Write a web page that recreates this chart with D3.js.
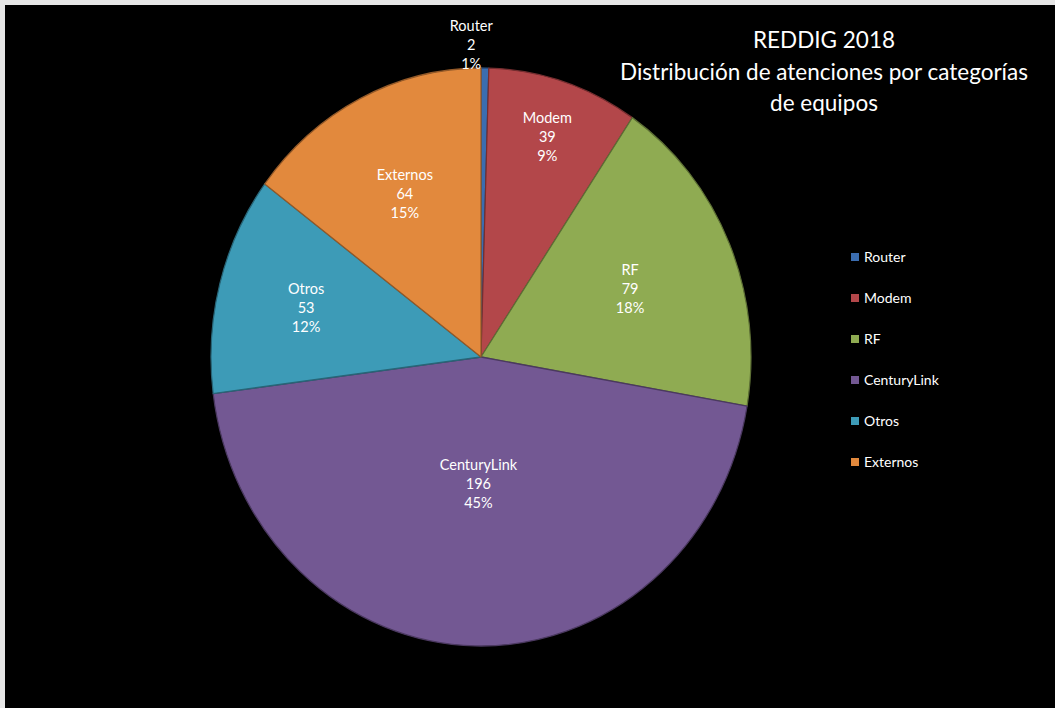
<!DOCTYPE html>
<html lang="es">
<head>
    <meta charset="UTF-8">
    <title>REDDIG 2018</title>
    <script src="https://d3js.org/d3.v7.min.js"></script>
    <style>
        html, body { margin: 0; padding: 0; background: #e6e6e6; }
        svg { display: block; }
        text { font-family: Lato, "Open Sans", sans-serif; fill: #fff; }
    </style>
</head>
<body>
    <svg id="chart" width="1055" height="708"></svg>

    <script>
        // data
        const categories = ["Router", "Modem", "RF", "CenturyLink", "Otros", "Externos"];
        const counts = [2, 39, 79, 196, 53, 64];
        const percentLabels = ["1%", "9%", "18%", "45%", "12%", "15%"];
        const colors = ["#3b6db0", "#b3474a", "#8fab52", "#735893", "#3d9bb7", "#e2893d"];
        const titleLines = ["REDDIG 2018", "Distribución de atenciones por categorías", "de equipos"];

        // layout: how far out each label sits (fraction of radius)
        const labelRadius = [1.08, 0.8, 0.6, 0.44, 0.67, 0.63];

        const W = 1055, H = 708;
        const cx = 481, cy = 357;
        const rx = 270, ry = 289;

        const svg = d3.select("#chart");

        //black chart area
        svg.append("rect")
            .attr("x", 5).attr("y", 5)
            .attr("width", W - 5).attr("height", H - 5)
            .attr("fill", "#000");

        const data = categories.map((c, i) => ({ name: c, value: counts[i], pct: percentLabels[i], color: colors[i], lr: labelRadius[i] }));

        const pie = d3.pie().sort(null).value(d => d.value);
        const arcs = pie(data);

        const arc = d3.arc().innerRadius(0).outerRadius(rx);

        //pie drawn as circle then stretched into an ellipse
        const pieG = svg.append("g")
            .attr("transform", `translate(${cx},${cy}) scale(1,${ry / rx})`);

        pieG.selectAll("path")
            .data(arcs)
            .enter().append("path")
            .attr("d", arc)
            .attr("fill", d => d.data.color)
            .attr("stroke", d => d3.color(d.data.color).darker(1.2))
            .attr("stroke-width", 1.2)
            .attr("stroke-linejoin", "round");

        //slice labels
        const labels = svg.append("g").attr("class", "labels");
        arcs.forEach(a => {
            const mid = (a.startAngle + a.endAngle) / 2;
            let lx = cx + Math.sin(mid) * rx * a.data.lr;
            const ly = cy - Math.cos(mid) * ry * a.data.lr;
            //outside label sits left of the thin slice
            if (a.data.lr > 1) lx -= 14;
            const t = labels.append("text")
                .attr("text-anchor", "middle")
                .attr("font-size", 14.5);
            [a.data.name, a.data.value, a.data.pct].forEach((s, k) => {
                t.append("tspan")
                    .attr("x", lx)
                    .attr("y", ly + (k - 1) * 19 + 5)
                    .text(s);
            });
        });

        //title
        const title = svg.append("text")
            .attr("text-anchor", "middle")
            .attr("font-size", 22.5);
        titleLines.forEach((s, k) => {
            title.append("tspan")
                .attr("x", 824)
                .attr("y", 48 + k * 31.5)
                .text(s);
        });

        //legend
        const legend = svg.append("g")
            .attr("transform", "translate(851,257)");
        const item = legend.selectAll("g")
            .data(data)
            .enter().append("g")
            .attr("transform", (d, i) => `translate(0,${i * 41})`);
        item.append("rect")
            .attr("x", 0).attr("y", -4)
            .attr("width", 8).attr("height", 8)
            .attr("fill", d => d.color);
        item.append("text")
            .attr("x", 13)
            .attr("y", 5)
            .attr("font-size", 14)
            .text(d => d.name);
    </script>
</body>
</html>
